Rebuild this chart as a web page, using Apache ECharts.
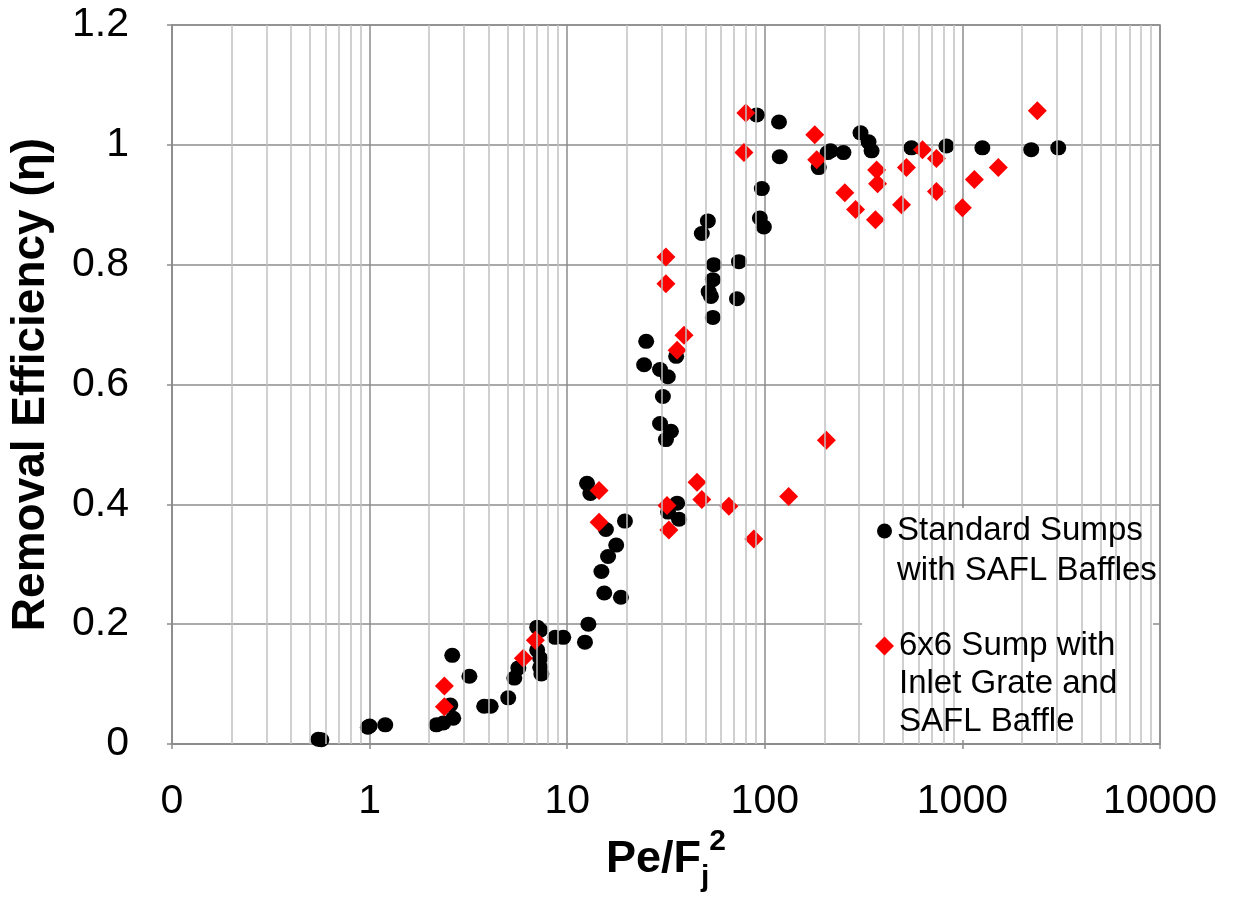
<!DOCTYPE html>
<html><head><meta charset="utf-8">
<script src="https://cdn.jsdelivr.net/npm/echarts@6/dist/echarts.min.js"></script>
<style>html,body{margin:0;padding:0;background:#fff}#c{width:1246px;height:905px}</style>
</head><body><div id="c"></div>
<script>
// ---- data ----
const stdX = [0.55,0.57,0.98,1.0,1.2,2.18,2.36,2.65,2.56,2.62,3.2,3.8,4.1,5.03,5.4,5.66,7.05,7.3,7.05,7.3,7.3,7.4,8.7,9.55,12.3,12.8,12.6,13.1,14.9,15.4,15.7,16.1,17.7,18.7,19.6,32.4,36,36.8,24.5,25.1,29.5,32.3,30.5,29.5,33.5,31.6,35.6,48,51.5,52,53.4,54.6,55.2,54.6,72.3,74,91,94.4,96.6,98.9,118,119,187.5,208,215,250,305,335,347,552,830,1262,2230,3055];
const stdY = [0.008,0.007,0.028,0.03,0.032,0.032,0.035,0.043,0.065,0.148,0.113,0.063,0.063,0.077,0.11,0.127,0.195,0.19,0.157,0.143,0.128,0.117,0.178,0.178,0.17,0.2,0.435,0.418,0.288,0.252,0.358,0.313,0.332,0.245,0.372,0.387,0.402,0.375,0.633,0.672,0.625,0.613,0.58,0.535,0.522,0.508,0.647,0.852,0.873,0.755,0.747,0.775,0.8,0.712,0.743,0.805,1.05,0.878,0.927,0.863,1.038,0.98,0.962,0.987,0.99,0.987,1.02,1.005,0.99,0.995,0.998,0.995,0.992,0.995];
const grateX = [2.39,2.39,6.0,6.9,14.5,14.5,32,32.7,45.4,48,65.8,88,132,205,31.6,31.6,36,39,80.2,78.4,179,183,254,288,363,368,372,492,521,628,739,739,1000,1150,1520,2394];
const grateY = [0.097,0.062,0.143,0.173,0.423,0.37,0.398,0.357,0.437,0.408,0.397,0.342,0.413,0.507,0.813,0.768,0.657,0.682,1.053,0.987,1.017,0.975,0.92,0.892,0.875,0.958,0.935,0.9,0.962,0.992,0.977,0.922,0.895,0.942,0.962,1.057];
const seriesNames = ['Standard Sumps\nwith SAFL Baffles', '6x6 Sump with\nInlet Grate and\nSAFL Baffle'];
const xTickLabels = ['0','1','10','100','1000','10000'];
const yAxisTitle = 'Removal Efficiency (\u03b7)';
const xAxisTitle = '{b|Pe/F}{sub|j}{sup|2}';

// minor log grid positions (2..9 within each decade)
const minorGrid = [];
[0.1,1,10,100,1000].forEach(d => { for (let k = 2; k <= 9; k++) minorGrid.push(Number((k*d).toPrecision(6))); });

const FONT = 'Liberation Sans, Arial, sans-serif';
const GRID_DARK = '#8c8c8c';
const GRID_LIGHT = '#c0c0c0';

const chart = echarts.init(document.getElementById('c'), null, {renderer:'canvas'});
chart.setOption({
  animation: false,
  backgroundColor: '#fff',
  textStyle: {fontFamily: FONT},
  grid: {left: 171, right: 86, top: 25, bottom: 161, show: true, borderColor: GRID_DARK, borderWidth: 1.5, backgroundColor: 'transparent'},
  xAxis: {
    type: 'log', logBase: 10, min: 0.1, max: 10000,
    axisLine: {show: true, lineStyle: {color: GRID_DARK, width: 1.5}},
    axisTick: {show: true, length: 5, lineStyle: {color: GRID_DARK, width: 1.5}},
    splitLine: {show: true, lineStyle: {color: GRID_DARK, width: 1.5}},
    axisLabel: {fontSize: 41, color: '#000', fontFamily: FONT, margin: 37,
      formatter: v => xTickLabels[Math.round(Math.log10(v)) + 1]},
    name: xAxisTitle, nameLocation: 'middle', nameGap: 81,
    nameTextStyle: {
      fontFamily: FONT, color: '#000',
      rich: {
        b: {fontSize: 45, fontWeight: 'bold', fontFamily: FONT, color: '#000', lineHeight: 66, verticalAlign: 'middle'},
        sub: {fontSize: 30, fontWeight: 'bold', fontFamily: FONT, color: '#000', lineHeight: 30, verticalAlign: 'bottom'},
        sup: {fontSize: 30, fontWeight: 'bold', fontFamily: FONT, color: '#000', lineHeight: 30, verticalAlign: 'top'}
      }
    }
  },
  yAxis: {
    type: 'value', min: 0, max: 1.2, interval: 0.2,
    axisLine: {show: true, lineStyle: {color: GRID_DARK, width: 1.5}},
    axisTick: {show: true, length: 5, lineStyle: {color: GRID_DARK, width: 1.5}},
    splitLine: {show: true, lineStyle: {color: GRID_DARK, width: 1.5}},
    axisLabel: {fontSize: 41, color: '#000', fontFamily: FONT, margin: 43},
    name: yAxisTitle, nameLocation: 'middle', nameGap: 118,
    nameTextStyle: {fontSize: 46, fontWeight: 'bold', color: '#000', fontFamily: FONT}
  },
  graphic: [{
    type: 'rect', z: 5, silent: true,
    shape: {x: 862, y: 508, width: 291, height: 232},
    style: {fill: '#fff'}
  }],
  legend: [
    {
      z: 6, orient: 'vertical', left: 877, top: 471, padding: 0,
      itemWidth: 15, itemHeight: 15, selectedMode: false,
      formatter: name => '\n' + name,
      data: [{name: seriesNames[0], icon: 'circle',
        textStyle: {fontSize: 33, color: '#000', fontFamily: FONT, lineHeight: 40}}]
    },
    {
      z: 6, orient: 'vertical', left: 875, top: 551, padding: 0,
      itemWidth: 19, itemHeight: 19, selectedMode: false,
      formatter: name => '\n\n' + name,
      data: [{name: seriesNames[1], icon: 'diamond',
        textStyle: {fontSize: 33, color: '#000', fontFamily: FONT, lineHeight: 38}}]
    }
  ],
  series: [
    {
      type: 'scatter', z: 1, data: [], silent: true,
      markLine: {
        silent: true, symbol: ['none','none'], label: {show: false},
        lineStyle: {color: GRID_LIGHT, width: 1.5, type: 'solid'},
        emphasis: {disabled: true},
        data: minorGrid.map(v => ({xAxis: v}))
      }
    },
    {
      name: seriesNames[0], type: 'scatter', z: 2, symbol: 'circle', symbolSize: [16,15],
      itemStyle: {color: '#000', opacity: 1},
      data: stdX.map((x, i) => [x, stdY[i]])
    },
    {
      name: seriesNames[1], type: 'scatter', z: 3, symbol: 'diamond', symbolSize: [19,19],
      itemStyle: {color: '#ff0000', opacity: 1},
      data: grateX.map((x, i) => [x, grateY[i]])
    }
  ]
});
</script>
</body></html>
